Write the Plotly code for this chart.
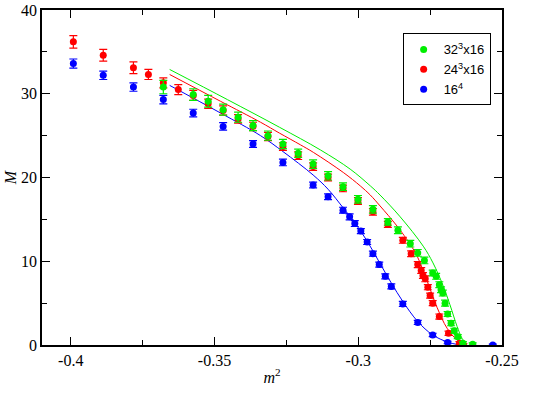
import plotly.graph_objects as go

# ---- data ----
blue_m = [-0.3991, -0.3887, -0.3782, -0.3678, -0.3574, -0.3470, -0.3366, -0.3262, -0.3157,
          -0.3105, -0.3053, -0.3030, -0.3012, -0.2991, -0.2969, -0.2949, -0.2927, -0.2906,
          -0.2885, -0.2845, -0.2793, -0.2741, -0.2689, -0.2646, -0.2532]
blue_M = [33.6, 32.2, 30.8, 29.3, 27.7, 26.1, 24.0, 21.8, 19.1,
          17.7, 16.1, 15.3, 14.5, 13.6, 12.3, 10.9, 9.6, 8.2,
          7.0, 4.9, 2.7, 1.2, 0.3, 0.0, 0.0]
blue_err = [0.55, 0.5, 0.5, 0.5, 0.45, 0.45, 0.4, 0.4, 0.35,
            0.35, 0.35, 0.35, 0.35, 0.3, 0.3, 0.3, 0.3, 0.3,
            0.3, 0.3, 0.25, 0.2, 0.15, 0.1, 0.1]

red_m = [-0.3991, -0.3887, -0.3782, -0.3730, -0.3678, -0.3626, -0.3574, -0.3522, -0.3470,
         -0.3418, -0.3366, -0.3314, -0.3262, -0.3209, -0.3157, -0.3105, -0.3053, -0.3001,
         -0.2949, -0.2897, -0.2845, -0.2816, -0.2793, -0.2781, -0.2775, -0.2767, -0.2758,
         -0.2750, -0.2741, -0.2718, -0.2686, -0.2648, -0.2634]
red_M = [36.2, 34.6, 33.1, 32.3, 31.3, 30.5, 29.8, 28.8, 28.0,
         27.0, 26.1, 24.9, 23.7, 22.6, 21.3, 20.0, 18.7, 17.2,
         15.9, 14.4, 12.5, 10.9, 9.6, 8.9, 8.3, 7.9, 6.9,
         5.9, 5.0, 3.4, 1.4, 0.2, 0.0]
red_err = [0.75, 0.7, 0.7, 0.6, 0.6, 0.6, 0.6, 0.55, 0.55,
           0.5, 0.5, 0.5, 0.45, 0.45, 0.45, 0.4, 0.4, 0.4,
           0.4, 0.35, 0.35, 0.35, 0.35, 0.35, 0.35, 0.35, 0.3,
           0.3, 0.3, 0.3, 0.25, 0.2, 0.15]

green_m = [-0.3678, -0.3574, -0.3522, -0.3470, -0.3418, -0.3366, -0.3314, -0.3262, -0.3209,
           -0.3157, -0.3105, -0.3053, -0.3001, -0.2949, -0.2897, -0.2862, -0.2819, -0.2793,
           -0.2770, -0.2741, -0.2729, -0.2718, -0.2712, -0.2706, -0.2698, -0.2689, -0.2677,
           -0.2666, -0.2654, -0.2636, -0.2602]
green_M = [30.8, 29.9, 29.1, 28.1, 27.2, 26.2, 25.0, 24.0, 22.9,
           21.6, 20.2, 18.9, 17.4, 16.2, 14.7, 13.7, 12.1, 11.0,
           10.1, 8.6, 8.2, 7.2, 6.6, 6.2, 5.0, 3.7, 2.6,
           1.7, 1.0, 0.2, 0.1]
green_err = [0.8, 0.7, 0.7, 0.65, 0.6, 0.6, 0.55, 0.55, 0.5,
             0.5, 0.5, 0.45, 0.45, 0.45, 0.4, 0.4, 0.4, 0.4,
             0.4, 0.35, 0.35, 0.35, 0.35, 0.35, 0.35, 0.3, 0.3,
             0.3, 0.25, 0.2, 0.15]

# fitted curves
blue_fit_m = [-0.3656, -0.3479, -0.3340, -0.3262, -0.3157, -0.3105, -0.3053, -0.3012,
              -0.2969, -0.2927, -0.2885, -0.2845, -0.2793, -0.2741, -0.2689, -0.2646]
blue_fit_M = [31.0, 27.7, 25.0, 23.1, 20.3, 18.6, 16.4, 14.6,
              12.4, 9.9, 7.4, 5.2, 2.8, 1.2, 0.35, 0.0]

red_fit_m = [-0.3656, -0.3479, -0.3340, -0.3274, -0.3201, -0.3156, -0.3052, -0.2993,
             -0.2958, -0.2924, -0.2865, -0.2819, -0.2795, -0.2760, -0.2726, -0.2691,
             -0.2656, -0.2622]
red_fit_M = [32.3, 29.1, 26.6, 25.3, 23.9, 23.0, 20.6, 19.0,
             17.9, 16.6, 14.2, 12.0, 10.6, 7.6, 4.5, 2.0,
             0.6, 0.0]

green_fit_m = [-0.3656, -0.3455, -0.3274, -0.3132, -0.3028, -0.2958, -0.2924, -0.2854,
               -0.2774, -0.2740, -0.2705, -0.2681, -0.2656, -0.2639, -0.2622]
green_fit_M = [32.9, 29.3, 26.0, 23.3, 21.0, 19.0, 17.9, 15.3,
               11.8, 9.8, 7.1, 4.8, 2.2, 0.8, 0.0]

names = ["32<sup>3</sup>x16", "24<sup>3</sup>x16", "16<sup>4</sup>"]
GREEN, RED, BLUE = "#00ee00", "#ff0000", "#0000ff"
SERIF = "Liberation Serif, Times New Roman, serif"
SANS = "Liberation Sans, Arial, sans-serif"

fig = go.Figure()

# curves
for fm, fM, c in [(blue_fit_m, blue_fit_M, BLUE), (red_fit_m, red_fit_M, RED),
                  (green_fit_m, green_fit_M, GREEN)]:
    fig.add_trace(go.Scatter(x=fm, y=fM, mode="lines",
                             line=dict(color=c, width=1, shape="spline", smoothing=1.0),
                             showlegend=False, hoverinfo="skip"))

# points
for m, M, e, c, n in [(blue_m, blue_M, blue_err, BLUE, names[2]),
                      (red_m, red_M, red_err, RED, names[1]),
                      (green_m, green_M, green_err, GREEN, names[0])]:
    fig.add_trace(go.Scatter(
        x=m, y=M, mode="markers", name=n,
        marker=dict(color=c, size=7, line=dict(width=0)),
        error_y=dict(type="data", array=e, visible=True, color=c, thickness=1.2, width=4),
    ))

axis_common = dict(
    showgrid=False, zeroline=False, showline=True, linecolor="black", linewidth=1.5,
    mirror="allticks", ticks="inside", ticklen=8, tickwidth=1, tickcolor="black",
    tickfont=dict(family=SERIF, size=16, color="black"), automargin=False,
)

fig.update_layout(
    width=545, height=393,
    font=dict(family=SERIF, size=16, color="black"),
    margin=dict(l=42, r=43, t=10, b=48),
    paper_bgcolor="white", plot_bgcolor="white",
    xaxis=dict(range=[-0.41, -0.25], tickvals=[-0.4, -0.35, -0.3, -0.25],
               ticktext=["-0.4", "-0.35", "-0.3", "-0.25"],
               minor=dict(tickvals=[-0.375, -0.325, -0.275], ticks="inside", ticklen=5,
                          tickcolor="black", tickwidth=1),
               title=dict(text="<i>m</i><sup>2</sup>", standoff=4,
                          font=dict(family=SERIF, size=16, color="black")),
               **axis_common),
    yaxis=dict(range=[0, 40], tickvals=[0, 10, 20, 30, 40],
               minor=dict(tickvals=[5, 15, 25, 35], ticks="inside", ticklen=5,
                          tickcolor="black", tickwidth=1),
               title=dict(text="<i>M</i>", standoff=0,
                          font=dict(family=SERIF, size=16, color="black")),
               **axis_common),
    legend=dict(x=0.784, y=0.93, xanchor="left", yanchor="top",
                bordercolor="black", borderwidth=1, bgcolor="white",
                traceorder="reversed", itemwidth=30, tracegroupgap=0,
                font=dict(family=SANS, size=13, color="black")),
    showlegend=True,
)

# remove the default 8px page margin so the figure sits at the window's corner
fig.write_html("out.html", config={"displayModeBar": False},
               post_script="document.body.style.margin='0px';")
